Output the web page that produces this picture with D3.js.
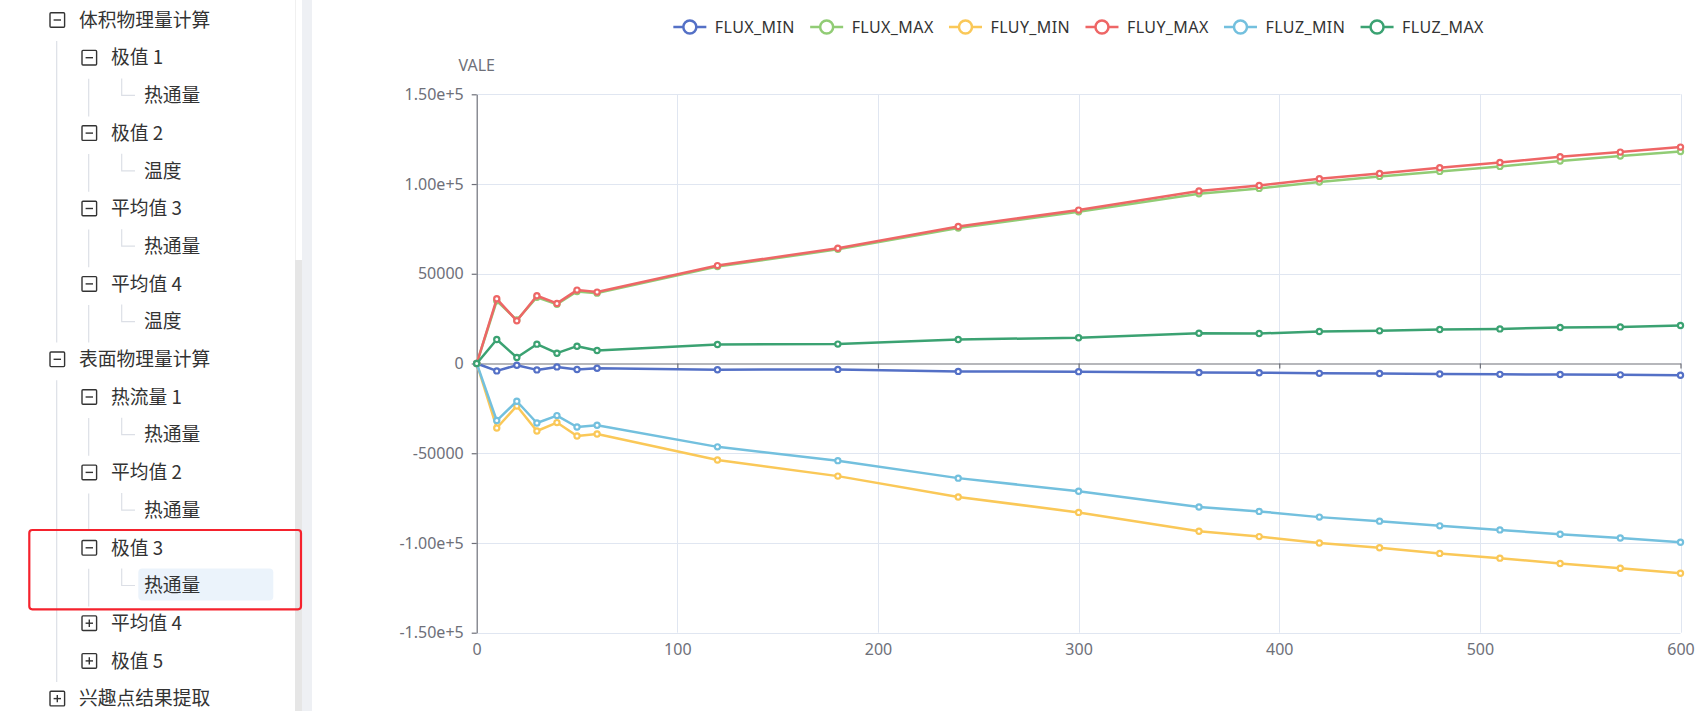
<!DOCTYPE html>
<html>
<head>
<meta charset="utf-8">
<script src="https://cdn.jsdelivr.net/npm/d3@7/dist/d3.min.js"></script>
<style>
  html, body { margin: 0; padding: 0; background: #ffffff; }
  svg { display: block; }
</style>
</head>
<body>
<svg id="root" width="1704" height="711"></svg>
<script>
// ---------------- DATA ----------------
const timeSteps = [0, 10, 20, 30, 40, 50, 60, 120, 180, 240, 300, 360, 390, 420, 450, 480, 510, 540, 570, 600];

const seriesNames = ["FLUX_MIN", "FLUX_MAX", "FLUY_MIN", "FLUY_MAX", "FLUZ_MIN", "FLUZ_MAX"];

const fluxMin = [0, -4130, -950, -3570, -1900, -3350, -2620, -3450, -3300, -4400, -4550, -5030, -5120, -5500, -5590, -5870, -6050, -6150, -6330, -6520];
const fluxMax = [0, 34900, 24200, 36900, 33000, 40100, 39200, 54000, 63600, 75500, 84500, 94600, 97570, 101100, 104250, 107030, 109820, 112780, 115570, 118160];
const fluyMin = [0, -35940, -23660, -37610, -32920, -40400, -39290, -53750, -62750, -74360, -82970, -93460, -96460, -100020, -102640, -105820, -108450, -111440, -114070, -116880];
const fluyMax = [0, 36050, 23770, 37730, 33480, 40900, 39790, 54560, 64240, 76340, 85470, 96090, 99240, 102950, 105920, 109070, 112040, 115200, 117790, 120580];
const fluzMin = [0, -31800, -21040, -33150, -29020, -35380, -34430, -46450, -54130, -63870, -71170, -79980, -82410, -85600, -87840, -90470, -92710, -95150, -97210, -99640];
const fluzMax = [0, 13390, 3350, 10770, 5750, 9650, 7250, 10610, 10800, 13400, 14340, 16880, 16700, 17810, 18180, 18920, 19290, 20030, 20400, 21150];

const yTickValues = [150000, 100000, 50000, 0, -50000, -100000, -150000];
const yTickLabels = ["1.50e+5", "1.00e+5", "50000", "0", "-50000", "-1.00e+5", "-1.50e+5"];
const xTickValues = [0, 100, 200, 300, 400, 500, 600];
const xTickLabels = ["0", "100", "200", "300", "400", "500", "600"];
const yAxisName = "VALE";

const seriesColors = ["#5470c6", "#91cc75", "#fac858", "#ee6666", "#73c0de", "#3ba272"];

// tree panel rows
const treeLabels = ["体积物理量计算", "极值 1", "热通量", "极值 2", "温度", "平均值 3", "热通量", "平均值 4", "温度",
                    "表面物理量计算", "热流量 1", "热通量", "平均值 2", "热通量", "极值 3", "热通量", "平均值 4", "极值 5", "兴趣点结果提取"];
const treeLevels = [0, 1, 2, 1, 2, 1, 2, 1, 2, 0, 1, 2, 1, 2, 1, 2, 1, 1, 0];
const treeIcons  = ["minus", "minus", "", "minus", "", "minus", "", "minus", "", "minus", "minus", "", "minus", "", "minus", "", "plus", "plus", "plus"];
const selectedRow = 15;

// ---------------- DRAW ----------------
const svg = d3.select("#root");
const FONT = "'Noto Sans CJK SC', 'Noto Sans', sans-serif";
const LATIN = "'Noto Sans', 'Open Sans', sans-serif";
const CHART_FS = 16;

// ---- left tree panel ----
const panel = svg.append("g");
const rowY = i => 20 + i * 37.7;
const boxLeft = lvl => 49.3 + lvl * 32;
const guideColor = "#dcdfe6";

// selected background
panel.append("rect").attr("x", 138.3).attr("y", rowY(selectedRow) - 17).attr("width", 135).attr("height", 32)
  .attr("rx", 4).attr("fill", "#ebf3fb");

// guides
treeLevels.forEach((lvl, i) => {
  if (lvl < 2 && treeIcons[i] === "minus") {
    let last = i;
    for (let j = i + 1; j < treeLevels.length && treeLevels[j] > lvl; j++) last = j;
    if (last > i) {
      panel.append("line").attr("x1", boxLeft(lvl) + 7.4).attr("x2", boxLeft(lvl) + 7.4)
        .attr("y1", rowY(i) + 21).attr("y2", rowY(last) + 21)
        .attr("stroke", guideColor).attr("stroke-width", 1.2);
    }
  }
  if (lvl === 2) {
    panel.append("path")
      .attr("d", `M121.7,${rowY(i) - 17}V${rowY(i)}H135`)
      .attr("fill", "none").attr("stroke", guideColor).attr("stroke-width", 1.2);
  }
});

treeLevels.forEach((lvl, i) => {
  const cy = rowY(i);
  let tx;
  if (treeIcons[i]) {
    const bx = boxLeft(lvl);
    panel.append("rect").attr("x", bx + 0.7).attr("y", cy - 7.3).attr("width", 14.6).attr("height", 14.6)
      .attr("rx", 1).attr("fill", "#fff").attr("stroke", "#333").attr("stroke-width", 1.4);
    panel.append("line").attr("x1", bx + 4.3).attr("x2", bx + 11.7).attr("y1", cy).attr("y2", cy)
      .attr("stroke", "#333").attr("stroke-width", 1.4);
    if (treeIcons[i] === "plus") {
      panel.append("line").attr("x1", bx + 8).attr("x2", bx + 8).attr("y1", cy - 3.7).attr("y2", cy + 3.7)
        .attr("stroke", "#333").attr("stroke-width", 1.4);
    }
    tx = bx + 29.7;
  } else {
    tx = 144;
  }
  panel.append("text").attr("x", tx).attr("y", cy).attr("dy", "0.36em")
    .attr("font-family", FONT).attr("font-size", 18.75).attr("fill", "#333")
    .text(treeLabels[i]);
});

// scrollbar + splitter
svg.append("line").attr("x1", 295.5).attr("x2", 295.5).attr("y1", 0).attr("y2", 260)
  .attr("stroke", "#f0f0f0").attr("stroke-width", 1);
svg.append("rect").attr("x", 295).attr("y", 260).attr("width", 7).attr("height", 451).attr("fill", "#e6e6e6");
svg.append("rect").attr("x", 302).attr("y", 0).attr("width", 10).attr("height", 711).attr("fill", "#eef0f4");

// red highlight box (drawn above the scrollbar)
svg.append("rect").attr("x", 29.3).attr("y", 530).attr("width", 271.7).attr("height", 79.3)
  .attr("rx", 3).attr("fill", "none").attr("stroke", "#f5222d").attr("stroke-width", 2.2);

// ---- chart ----
const x = d3.scaleLinear().domain([0, 600]).range([476.7, 1680.5]);
const y = d3.scaleLinear().domain([-150000, 150000]).range([632.7, 94.3]);
const axisColor = "#6E7079";
const gridColor = "#E0E6F1";

const chart = svg.append("g");

// grid lines
chart.append("g").selectAll("line.h").data(yTickValues.filter(v => v !== 0)).join("line")
  .attr("x1", x(0)).attr("x2", x(600)).attr("y1", d => Math.round(y(d)) + 0.5).attr("y2", d => Math.round(y(d)) + 0.5)
  .attr("stroke", gridColor).attr("stroke-width", 1);
chart.append("g").selectAll("line.v").data(xTickValues.filter(v => v !== 0)).join("line")
  .attr("x1", d => Math.round(x(d)) + 0.5).attr("x2", d => Math.round(x(d)) + 0.5).attr("y1", y(150000)).attr("y2", y(-150000))
  .attr("stroke", gridColor).attr("stroke-width", 1);

// y axis
const yAxis = d3.axisLeft(y).tickValues(yTickValues)
  .tickFormat((d, i) => yTickLabels[i]).tickSize(5).tickSizeOuter(0).tickPadding(8);
const gy = chart.append("g").attr("transform", `translate(${x(0)},0)`).call(yAxis);
gy.select(".domain").attr("stroke", axisColor).attr("stroke-width", 1.2);
gy.selectAll(".tick line").attr("stroke", axisColor).attr("stroke-width", 1.2);
gy.selectAll(".tick text").attr("fill", axisColor).attr("font-size", CHART_FS).attr("font-family", LATIN);

// x axis at zero (line + ticks)
const xAxisLine = d3.axisBottom(x).tickValues(xTickValues).tickFormat("").tickSize(5).tickSizeOuter(0);
const gx = chart.append("g").attr("transform", `translate(0,${y(0)})`).call(xAxisLine);
gx.select(".domain").attr("stroke", axisColor).attr("stroke-width", 1.2);
gx.selectAll(".tick line").attr("stroke", axisColor).attr("stroke-width", 1.2);

// x labels at bottom
const xLabels = d3.axisBottom(x).tickValues(xTickValues).tickFormat((d, i) => xTickLabels[i]).tickSize(0).tickPadding(10.5);
const gxl = chart.append("g").attr("transform", `translate(0,${y(-150000)})`).call(xLabels);
gxl.select(".domain").remove();
gxl.selectAll(".tick text").attr("fill", axisColor).attr("font-size", CHART_FS).attr("font-family", LATIN);

// axis name
chart.append("text").attr("x", x(0)).attr("y", 65).attr("dy", "0.36em").attr("text-anchor", "middle")
  .attr("fill", axisColor).attr("font-size", CHART_FS).attr("font-family", LATIN).text(yAxisName);

// series
const seriesValues = [fluxMin, fluxMax, fluyMin, fluyMax, fluzMin, fluzMax];
const line = d3.line().x((d, i) => x(timeSteps[i])).y(d => y(d));
seriesValues.forEach((vals, s) => {
  const g = chart.append("g");
  g.append("path").datum(vals).attr("d", line).attr("fill", "none")
    .attr("stroke", seriesColors[s]).attr("stroke-width", 2.5).attr("stroke-linejoin", "round");
  g.selectAll("circle").data(vals).join("circle")
    .attr("cx", (d, i) => x(timeSteps[i])).attr("cy", d => y(d)).attr("r", 2.6)
    .attr("fill", "#fff").attr("stroke", seriesColors[s]).attr("stroke-width", 2.2);
});

// legend
const legend = svg.append("g");
const items = legend.selectAll("g").data(seriesNames).join("g");
items.append("line").attr("x1", 0).attr("x2", 33).attr("y1", 0).attr("y2", 0)
  .attr("stroke", (d, i) => seriesColors[i]).attr("stroke-width", 2.5);
items.append("circle").attr("cx", 16.5).attr("cy", 0).attr("r", 6.5).attr("fill", "#fff")
  .attr("stroke", (d, i) => seriesColors[i]).attr("stroke-width", 2.5);
items.append("text").attr("x", 41.5).attr("y", 0).attr("dy", "0.36em")
  .attr("font-size", CHART_FS).attr("letter-spacing", 0.4).attr("font-family", LATIN).attr("fill", "#333").text(d => d);
const widths = [];
items.each(function () { widths.push(41.5 + this.querySelector("text").getComputedTextLength()); });
const gap = 15.3;
const total = d3.sum(widths) + gap * (widths.length - 1);
let cx0 = (x(0) + x(600)) / 2 - total / 2;
items.attr("transform", (d, i) => {
  const t = `translate(${cx0},27)`;
  cx0 += widths[i] + gap;
  return t;
});
</script>
</body>
</html>
